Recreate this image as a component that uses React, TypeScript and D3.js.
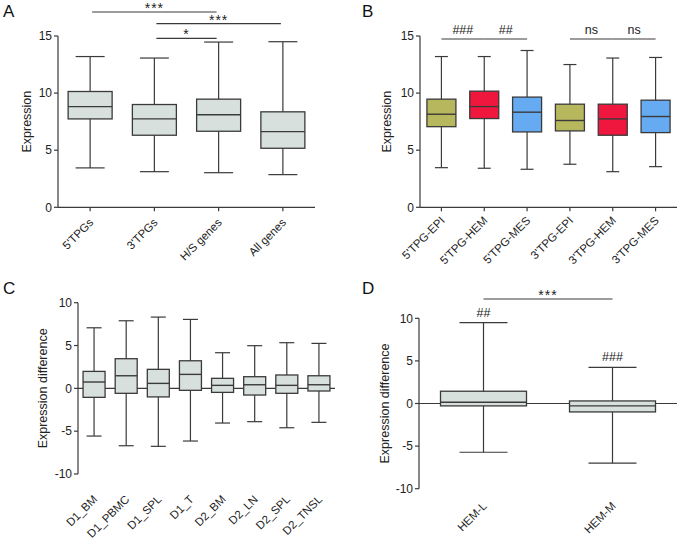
import React from "react";
import * as d3 from "d3";

// ---------- DATA ----------
const catsA = ["5'TPGs", "3'TPGs", "H/S genes", "All genes"];
const minA = [3.45, 3.12, 3.03, 2.86];
const q1A = [7.74, 6.31, 6.66, 5.17];
const medA = [8.82, 7.74, 8.1, 6.63];
const q3A = [10.14, 9.0, 9.47, 8.36];
const maxA = [13.2, 13.07, 14.47, 14.5];
const yTicksA = [0, 5, 10, 15];

const catsB = ["5'TPG-EPI", "5'TPG-HEM", "5'TPG-MES", "3'TPG-EPI", "3'TPG-HEM", "3'TPG-MES"];
const groupB = ["EPI", "HEM", "MES", "EPI", "HEM", "MES"];
const minB = [3.47, 3.42, 3.33, 3.77, 3.12, 3.56];
const q1B = [7.06, 7.77, 6.6, 6.69, 6.31, 6.54];
const medB = [8.15, 8.82, 8.33, 7.6, 7.74, 7.95];
const q3B = [9.47, 10.17, 9.65, 9.03, 9.03, 9.38];
const maxB = [13.2, 13.2, 13.73, 12.5, 13.07, 13.12];
const yTicksB = [0, 5, 10, 15];

const catsC = ["D1_BM", "D1_PBMC", "D1_SPL", "D1_T", "D2_BM", "D2_LN", "D2_SPL", "D2_TNSL"];
const minC = [-5.57, -6.7, -6.77, -6.15, -4.05, -3.89, -4.6, -3.97];
const q1C = [-1.05, -0.58, -1.0, -0.23, -0.47, -0.78, -0.58, -0.31];
const medC = [0.74, 1.47, 0.58, 1.63, 0.35, 0.42, 0.35, 0.42];
const q3C = [1.98, 3.46, 2.22, 3.22, 1.17, 1.36, 1.56, 1.47];
const maxC = [7.07, 7.89, 8.32, 8.05, 4.16, 4.98, 5.33, 5.25];
const yTicksC = [-10, -5, 0, 5, 10];

const catsD = ["HEM-L", "HEM-M"];
const minD = [-5.72, -7.0];
const q1D = [-0.28, -0.99];
const medD = [0.15, -0.28];
const q3D = [1.44, 0.3];
const maxD = [9.5, 4.23];
const yTicksD = [-10, -5, 0, 5, 10];

// significance annotations: [fromIndex, toIndex, label]
const sigA: [number, number, string][] = [
  [0, 2, "***"],
  [1, 3, "***"],
  [1, 2, "*"],
];
const sigB: [number, number, string][] = [
  [0, 1, "###"],
  [1, 2, "##"],
  [3, 4, "ns"],
  [4, 5, "ns"],
];
const sigD: [number, number, string][] = [[0, 1, "***"]];
const hashD = ["##", "###"];

// ---------- STYLE ----------
const FONT = "'Liberation Sans', Arial, sans-serif";
const GREY = "#d8e0dd";
const groupColor: Record<string, string> = { EPI: "#b7b75e", HEM: "#ef173d", MES: "#66aaf2" };
const STROKE = "#3a3a3a";

type PanelProps = {
  cats: string[];
  mins: number[];
  q1s: number[];
  meds: number[];
  q3s: number[];
  maxs: number[];
  fills: string[];
  yDomain: [number, number];
  yTicks: number[];
  x0: number;
  x1: number;
  yTop: number;
  yBot: number;
  boxW: number;
  capW: number;
  yLabel: string;
  yLabelX: number;
  baseAxisAtZero: boolean;
  showXTicks: boolean;
  labelOffset: number;
};

function BoxPanel(p: PanelProps) {
  const x = d3.scalePoint<string>().domain(p.cats).range([p.x0, p.x1]).padding(0.5);
  const y = d3.scaleLinear().domain(p.yDomain).range([p.yBot, p.yTop]);
  const axisY = p.baseAxisAtZero ? y(0) : y(p.yDomain[0]);
  const labelBase = y(p.yDomain[0]);
  return (
    <g>
      {/* y axis */}
      <line x1={p.x0} x2={p.x0} y1={y(p.yDomain[0])} y2={y(p.yDomain[1])} stroke={STROKE} strokeWidth={1.2} />
      {p.yTicks.map((t) => (
        <g key={t}>
          <line x1={p.x0 - 4} x2={p.x0} y1={y(t)} y2={y(t)} stroke={STROKE} strokeWidth={1.2} />
          <text x={p.x0 - 6} y={y(t)} dy="0.35em" textAnchor="end" fontSize={12} fontFamily={FONT} fill="#222">
            {t}
          </text>
        </g>
      ))}
      {/* x axis / zero line */}
      <line x1={p.x0} x2={p.x1} y1={axisY} y2={axisY} stroke={STROKE} strokeWidth={1.2} />
      {p.showXTicks &&
        p.cats.map((c) => (
          <line key={c} x1={x(c)} x2={x(c)} y1={axisY} y2={axisY + 4} stroke={STROKE} strokeWidth={1.2} />
        ))}
      {/* boxes */}
      {p.cats.map((c, i) => {
        const cx = x(c) as number;
        return (
          <g key={c}>
            <line x1={cx} x2={cx} y1={y(p.maxs[i])} y2={y(p.mins[i])} stroke={STROKE} strokeWidth={1.2} />
            <line x1={cx - p.capW / 2} x2={cx + p.capW / 2} y1={y(p.maxs[i])} y2={y(p.maxs[i])} stroke={STROKE} strokeWidth={1.2} />
            <line x1={cx - p.capW / 2} x2={cx + p.capW / 2} y1={y(p.mins[i])} y2={y(p.mins[i])} stroke={STROKE} strokeWidth={1.2} />
            <rect
              x={cx - p.boxW / 2}
              y={y(p.q3s[i])}
              width={p.boxW}
              height={y(p.q1s[i]) - y(p.q3s[i])}
              fill={p.fills[i]}
              stroke={STROKE}
              strokeWidth={1.3}
            />
            <line x1={cx - p.boxW / 2} x2={cx + p.boxW / 2} y1={y(p.meds[i])} y2={y(p.meds[i])} stroke={STROKE} strokeWidth={1.4} />
            <text
              transform={`translate(${cx + 4},${labelBase + p.labelOffset}) rotate(-45)`}
              textAnchor="end"
              fontSize={11.5}
              fontFamily={FONT}
              fill="#222"
            >
              {c}
            </text>
          </g>
        );
      })}
      <text
        transform={`translate(${p.yLabelX},${(p.yTop + p.yBot) / 2}) rotate(-90)`}
        textAnchor="middle"
        dy="0.35em"
        fontSize={12.5}
        fontFamily={FONT}
        fill="#222"
      >
        {p.yLabel}
      </text>
    </g>
  );
}

function SigLines({
  cats,
  x0,
  x1,
  sigs,
  ys,
  shrink,
}: {
  cats: string[];
  x0: number;
  x1: number;
  sigs: [number, number, string][];
  ys: number[];
  shrink: number;
}) {
  const x = d3.scalePoint<string>().domain(cats).range([x0, x1]).padding(0.5);
  return (
    <g>
      {sigs.map(([a, b, lab], i) => {
        const xa = (x(cats[a]) as number) + shrink;
        const xb = (x(cats[b]) as number) - shrink;
        const isStar = lab.includes("*");
        return (
          <g key={i}>
            <line x1={xa} x2={xb} y1={ys[i]} y2={ys[i]} stroke={STROKE} strokeWidth={1.2} />
            <text
              x={(xa + xb) / 2}
              y={ys[i] - (isStar ? -1 : 5)}
              textAnchor="middle"
              fontSize={isStar ? 14 : 12.5}
              fontFamily={FONT}
              letterSpacing={isStar ? 1 : 0}
              fill="#222"
            >
              {lab}
            </text>
          </g>
        );
      })}
    </g>
  );
}

export default function App() {
  const yD = d3.scaleLinear().domain([-10, 10]).range([488.7, 318.3]);
  const xD = d3.scalePoint<string>().domain(catsD).range([419, 677]).padding(0.5);
  return (
    <svg width={681} height={542} style={{ position: "absolute", left: 0, top: 0, background: "#fff" }}>
      <rect width={681} height={542} fill="#fff" />
      {/* panel titles */}
      <text x={3} y={17} fontSize={17} fontFamily={FONT} fill="#111">A</text>
      <text x={362} y={17} fontSize={17} fontFamily={FONT} fill="#111">B</text>
      <text x={3} y={294} fontSize={17} fontFamily={FONT} fill="#111">C</text>
      <text x={362} y={294} fontSize={17} fontFamily={FONT} fill="#111">D</text>

      <BoxPanel
        cats={catsA}
        mins={minA}
        q1s={q1A}
        meds={medA}
        q3s={q3A}
        maxs={maxA}
        fills={catsA.map(() => GREY)}
        yDomain={[0, 15]}
        yTicks={yTicksA}
        x0={58}
        x1={315}
        yTop={36}
        yBot={207.3}
        boxW={44}
        capW={29}
        yLabel="Expression"
        yLabelX={27}
        baseAxisAtZero={false}
        showXTicks={true}
        labelOffset={16}
      />
      <SigLines cats={catsA} x0={58} x1={315} sigs={sigA} ys={[12, 23.7, 38.3]} shrink={2} />

      <BoxPanel
        cats={catsB}
        mins={minB}
        q1s={q1B}
        meds={medB}
        q3s={q3B}
        maxs={maxB}
        fills={groupB.map((g) => groupColor[g])}
        yDomain={[0, 15]}
        yTicks={yTicksB}
        x0={420}
        x1={677}
        yTop={36}
        yBot={207.3}
        boxW={29}
        capW={13}
        yLabel="Expression"
        yLabelX={387}
        baseAxisAtZero={false}
        showXTicks={true}
        labelOffset={14}
      />
      <SigLines cats={catsB} x0={420} x1={677} sigs={sigB} ys={[39, 39, 39, 39]} shrink={0} />

      <BoxPanel
        cats={catsC}
        mins={minC}
        q1s={q1C}
        meds={medC}
        q3s={q3C}
        maxs={maxC}
        fills={catsC.map(() => GREY)}
        yDomain={[-10, 10]}
        yTicks={yTicksC}
        x0={78}
        x1={335}
        yTop={302.7}
        yBot={474}
        boxW={22}
        capW={15}
        yLabel="Expression difference"
        yLabelX={43}
        baseAxisAtZero={true}
        showXTicks={false}
        labelOffset={26}
      />

      <BoxPanel
        cats={catsD}
        mins={minD}
        q1s={q1D}
        meds={medD}
        q3s={q3D}
        maxs={maxD}
        fills={catsD.map(() => GREY)}
        yDomain={[-10, 10]}
        yTicks={yTicksD}
        x0={419}
        x1={677}
        yTop={318.3}
        yBot={488.7}
        boxW={86}
        capW={48}
        yLabel="Expression difference"
        yLabelX={385}
        baseAxisAtZero={true}
        showXTicks={false}
        labelOffset={18}
      />
      <SigLines cats={catsD} x0={419} x1={677} sigs={sigD} ys={[299]} shrink={0} />
      {catsD.map((c, i) => (
        <text
          key={c}
          x={xD(c) as number}
          y={yD(maxD[i]) - 6}
          textAnchor="middle"
          fontSize={12.5}
          fontFamily={FONT}
          fill="#222"
        >
          {hashD[i]}
        </text>
      ))}
    </svg>
  );
}
